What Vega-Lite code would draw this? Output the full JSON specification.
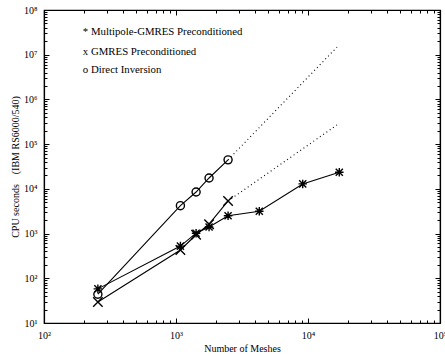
{
  "$schema": "https://vega.github.io/schema/vega-lite/v6.json",
  "width": 396,
  "height": 313,
  "autosize": "none",
  "padding": {"left": 44, "top": 10, "right": 5, "bottom": 33},
  "background": "white",
  "config": {
    "view": {"stroke": "black", "strokeWidth": 1.2},
    "font": "Liberation Serif",
    "axis": {
      "grid": false,
      "domainColor": "black",
      "domainWidth": 1.2,
      "tickColor": "black",
      "labelColor": "black",
      "titleColor": "black",
      "labelFont": "Liberation Serif",
      "titleFont": "Liberation Serif",
      "labelFontSize": 10,
      "titleFontSize": 10,
      "titleFontWeight": "normal",
      "labelFlush": false,
      "labelOverlap": false
    }
  },
  "datasets": {
    "pts": [
      {"series": "Multipole", "N": 256, "cpu": 58},
      {"series": "Multipole", "N": 1080, "cpu": 525},
      {"series": "Multipole", "N": 1420, "cpu": 1020},
      {"series": "Multipole", "N": 1780, "cpu": 1400},
      {"series": "Multipole", "N": 2480, "cpu": 2510},
      {"series": "Multipole", "N": 4276, "cpu": 3160},
      {"series": "Multipole", "N": 9120, "cpu": 12900},
      {"series": "Multipole", "N": 17260, "cpu": 23500},
      {"series": "GMRES", "N": 256, "cpu": 29.5},
      {"series": "GMRES", "N": 1080, "cpu": 430},
      {"series": "GMRES", "N": 1420, "cpu": 940},
      {"series": "GMRES", "N": 1780, "cpu": 1620},
      {"series": "GMRES", "N": 2480, "cpu": 5360},
      {"series": "Direct", "N": 256, "cpu": 44},
      {"series": "Direct", "N": 1080, "cpu": 4200},
      {"series": "Direct", "N": 1420, "cpu": 8500},
      {"series": "Direct", "N": 1780, "cpu": 17500},
      {"series": "Direct", "N": 2480, "cpu": 44500}
    ],
    "ext": [
      {"series": "Direct", "N": 2480, "cpu": 44500},
      {"series": "Direct", "N": 16600, "cpu": 14800000},
      {"series": "GMRES", "N": 2480, "cpu": 5360},
      {"series": "GMRES", "N": 16600, "cpu": 270000}
    ],
    "leg": [
      {"label": "* Multipole-GMRES Preconditioned", "N": 197, "cpu": 32400000},
      {"label": "x GMRES Preconditioned", "N": 197, "cpu": 11500000},
      {"label": "o Direct Inversion", "N": 197, "cpu": 4600000}
    ]
  },
  "layer": [
    {
      "data": {"name": "pts"},
      "mark": {"type": "line", "color": "black", "strokeWidth": 1.1},
      "encoding": {
        "x": {
          "field": "N", "type": "quantitative",
          "scale": {"type": "log", "domain": [100, 100000], "nice": false},
          "axis": {
            "orient": "bottom",
            "values": [100, 1000, 10000, 100000],
            "labelExpr": "'10' + ['⁰','¹','²','³','⁴','⁵','⁶','⁷','⁸'][round(log(datum.value)/LN10)]",
            "tickSize": -5,
            "labelPadding": 12,
            "title": "Number of Meshes",
            "titlePadding": 3
          }
        },
        "y": {
          "field": "cpu", "type": "quantitative",
          "scale": {"type": "log", "domain": [10, 100000000], "nice": false},
          "axis": {
            "orient": "left",
            "values": [10, 100, 1000, 10000, 100000, 1000000, 10000000, 100000000],
            "labelExpr": "'10' + ['⁰','¹','²','³','⁴','⁵','⁶','⁷','⁸'][round(log(datum.value)/LN10)]",
            "tickSize": -5,
            "labelPadding": 12,
            "title": "CPU seconds\u00a0\u00a0\u00a0\u00a0(IBM RS6000/540)",
            "titlePadding": 3
          }
        },
        "detail": {"field": "series"}
      }
    },
    {
      "data": {"name": "ext"},
      "mark": {"type": "line", "color": "black", "strokeWidth": 1.1, "strokeDash": [1, 3]},
      "encoding": {
        "x": {
          "field": "N", "type": "quantitative",
          "scale": {"type": "log", "domain": [100, 100000], "nice": false},
          "axis": {
            "orient": "bottom",
            "values": [200, 300, 400, 500, 600, 700, 800, 900, 2000, 3000, 4000, 5000, 6000, 7000, 8000, 9000, 20000, 30000, 40000, 50000, 60000, 70000, 80000, 90000],
            "labels": false, "tickSize": -3, "title": null, "domain": false
          }
        },
        "y": {
          "field": "cpu", "type": "quantitative",
          "scale": {"type": "log", "domain": [10, 100000000], "nice": false},
          "axis": {
            "orient": "left",
            "values": [20, 30, 40, 50, 60, 70, 80, 90, 200, 300, 400, 500, 600, 700, 800, 900, 2000, 3000, 4000, 5000, 6000, 7000, 8000, 9000, 20000, 30000, 40000, 50000, 60000, 70000, 80000, 90000, 200000, 300000, 400000, 500000, 600000, 700000, 800000, 900000, 2000000, 3000000, 4000000, 5000000, 6000000, 7000000, 8000000, 9000000, 20000000, 30000000, 40000000, 50000000, 60000000, 70000000, 80000000, 90000000],
            "labels": false, "tickSize": -3, "title": null, "domain": false
          }
        },
        "detail": {"field": "series"}
      }
    },
    {
      "data": {"name": "pts"},
      "mark": {"type": "point", "filled": false, "stroke": "black", "strokeWidth": 1.4, "opacity": 1},
      "encoding": {
        "x": {
          "field": "N", "type": "quantitative",
          "scale": {"type": "log", "domain": [100, 100000], "nice": false},
          "axis": {"orient": "top", "values": [100, 1000, 10000, 100000], "labels": false, "tickSize": -5, "title": null}
        },
        "y": {
          "field": "cpu", "type": "quantitative",
          "scale": {"type": "log", "domain": [10, 100000000], "nice": false},
          "axis": {"orient": "right", "values": [10, 100, 1000, 10000, 100000, 1000000, 10000000, 100000000], "labels": false, "tickSize": -5, "title": null}
        },
        "shape": {
          "field": "series", "type": "nominal",
          "scale": {
            "domain": ["Multipole", "GMRES", "Direct"],
            "range": [
              "M-0.75,-0.75L0.75,0.75M-0.75,0.75L0.75,-0.75M0,-0.9L0,0.9M-0.9,0L0.9,0",
              "M-1,-1L1,1M-1,1L1,-1",
              "M-0.85,0A0.85,0.85 0 1,0 0.85,0A0.85,0.85 0 1,0 -0.85,0"
            ]
          },
          "legend": null
        },
        "size": {"value": 90}
      }
    },
    {
      "data": {"name": "leg"},
      "mark": {"type": "text", "align": "left", "baseline": "middle", "font": "Liberation Serif", "fontSize": 10.8, "color": "black"},
      "encoding": {
        "x": {
          "field": "N", "type": "quantitative",
          "scale": {"type": "log", "domain": [100, 100000], "nice": false},
          "axis": {
            "orient": "top",
            "values": [200, 300, 400, 500, 600, 700, 800, 900, 2000, 3000, 4000, 5000, 6000, 7000, 8000, 9000, 20000, 30000, 40000, 50000, 60000, 70000, 80000, 90000],
            "labels": false, "tickSize": -3, "title": null, "domain": false
          }
        },
        "y": {
          "field": "cpu", "type": "quantitative",
          "scale": {"type": "log", "domain": [10, 100000000], "nice": false},
          "axis": {
            "orient": "right",
            "values": [20, 30, 40, 50, 60, 70, 80, 90, 200, 300, 400, 500, 600, 700, 800, 900, 2000, 3000, 4000, 5000, 6000, 7000, 8000, 9000, 20000, 30000, 40000, 50000, 60000, 70000, 80000, 90000, 200000, 300000, 400000, 500000, 600000, 700000, 800000, 900000, 2000000, 3000000, 4000000, 5000000, 6000000, 7000000, 8000000, 9000000, 20000000, 30000000, 40000000, 50000000, 60000000, 70000000, 80000000, 90000000],
            "labels": false, "tickSize": -3, "title": null, "domain": false
          }
        },
        "text": {"field": "label"}
      }
    }
  ],
  "resolve": {"axis": {"x": "independent", "y": "independent"}}
}
